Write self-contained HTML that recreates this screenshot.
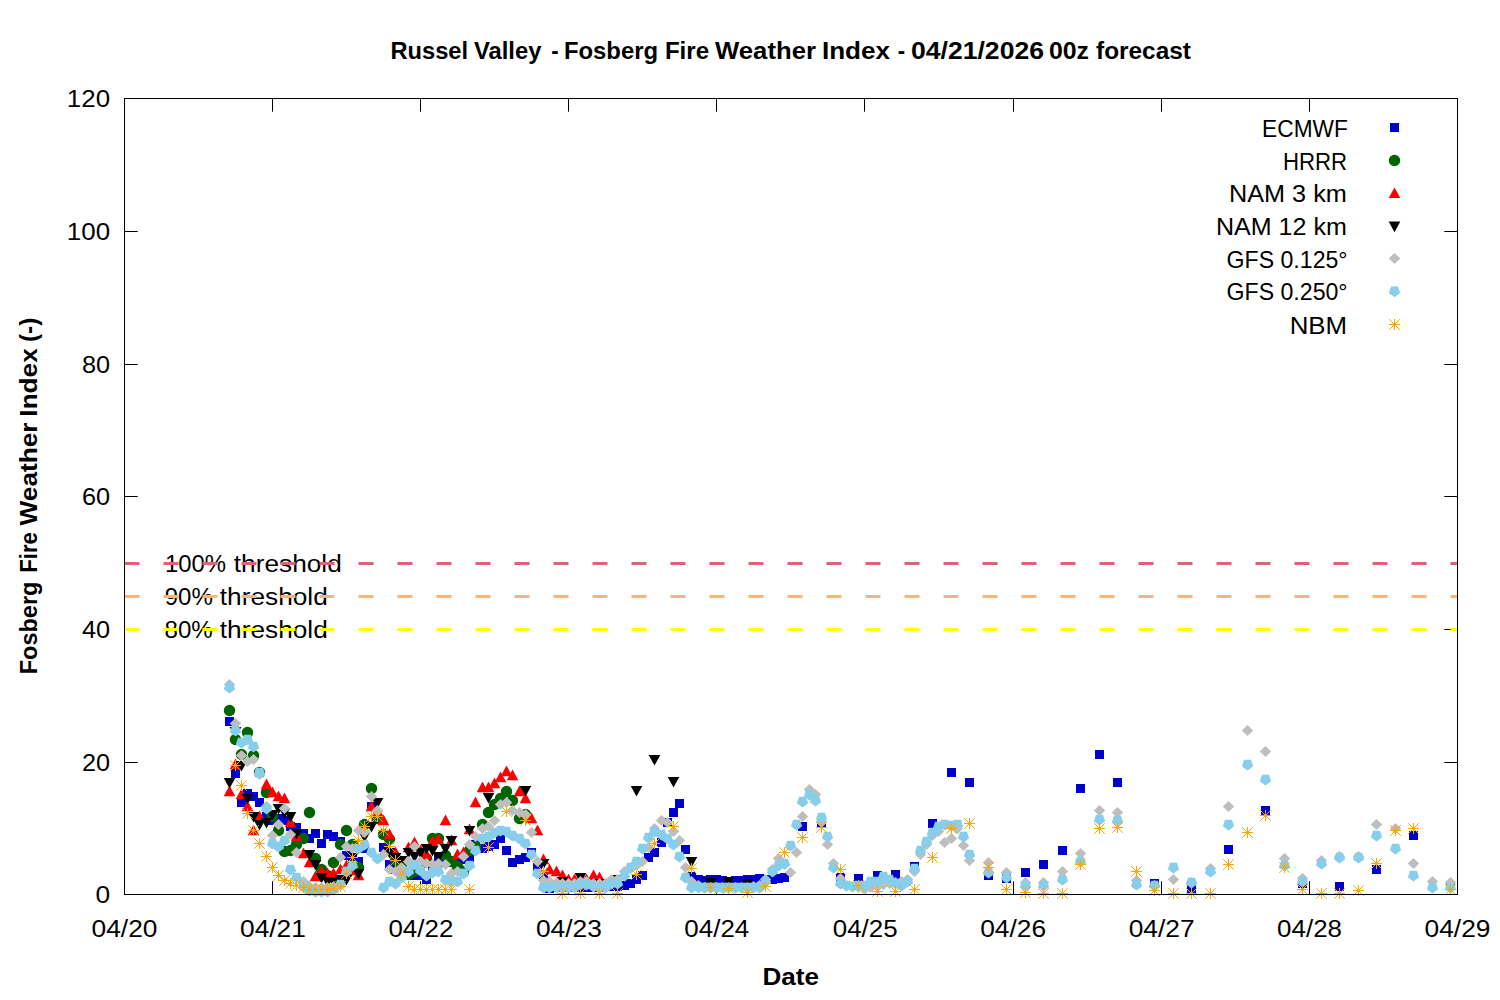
<!DOCTYPE html>
<html><head><meta charset="utf-8"><title>Russel Valley - Fosberg Fire Weather Index</title>
<style>html,body{margin:0;padding:0;background:#fff;}svg{display:block;font-family:"Liberation Sans",sans-serif;}</style></head>
<body>
<svg width="1500" height="1000" viewBox="0 0 1500 1000">
<rect width="1500" height="1000" fill="#fff"/>
<g stroke="#000" stroke-width="1" fill="none">
<path d="M272.5 894.5v-13.2 M272.5 98.5v13.2"/>
<path d="M420.5 894.5v-13.2 M420.5 98.5v13.2"/>
<path d="M568.5 894.5v-13.2 M568.5 98.5v13.2"/>
<path d="M716.5 894.5v-13.2 M716.5 98.5v13.2"/>
<path d="M864.5 894.5v-13.2 M864.5 98.5v13.2"/>
<path d="M1013.5 894.5v-13.2 M1013.5 98.5v13.2"/>
<path d="M1161.5 894.5v-13.2 M1161.5 98.5v13.2"/>
<path d="M1309.5 894.5v-13.2 M1309.5 98.5v13.2"/>
<path d="M124.5 762.5h13.2 M1457.5 762.5h-13.2"/>
<path d="M124.5 629.5h13.2 M1457.5 629.5h-13.2"/>
<path d="M124.5 496.5h13.2 M1457.5 496.5h-13.2"/>
<path d="M124.5 364.5h13.2 M1457.5 364.5h-13.2"/>
<path d="M124.5 231.5h13.2 M1457.5 231.5h-13.2"/>
</g>
<g fill="#000">
<text id="th100_0" x="164.89" y="571.5" font-size="24.8" textLength="61.16" lengthAdjust="spacingAndGlyphs">100%</text>
<text id="th100_1" x="233.79" y="571.5" font-size="24.8" textLength="108.04" lengthAdjust="spacingAndGlyphs">threshold</text>
<text id="th90_0" x="164.73" y="604.6" font-size="24.8" textLength="48.12" lengthAdjust="spacingAndGlyphs">90%</text>
<text id="th90_1" x="219.79" y="604.6" font-size="24.8" textLength="108.04" lengthAdjust="spacingAndGlyphs">threshold</text>
<text id="th80_0" x="164.53" y="637.8" font-size="24.8" textLength="48.3" lengthAdjust="spacingAndGlyphs">80%</text>
<text id="th80_1" x="219.79" y="637.8" font-size="24.8" textLength="108.04" lengthAdjust="spacingAndGlyphs">threshold</text>
</g>
<line x1="124.5" y1="563.5" x2="1457.5" y2="563.5" stroke="#DC6478" stroke-width="3" stroke-dasharray="15 24"/>
<line x1="124.5" y1="596.5" x2="1457.5" y2="596.5" stroke="#FAB478" stroke-width="3" stroke-dasharray="15 24"/>
<line x1="124.5" y1="629.5" x2="1457.5" y2="629.5" stroke="#FFFF00" stroke-width="3" stroke-dasharray="15 24"/>
<g fill="#000">
<text id="title_0" x="390.51" y="58.8" font-size="24.8" font-weight="bold" textLength="77.56" lengthAdjust="spacingAndGlyphs">Russel</text>
<text id="title_1" x="474" y="58.8" font-size="24.8" font-weight="bold" textLength="67.41" lengthAdjust="spacingAndGlyphs">Valley</text>
<text id="title_2" x="551.21" y="58.8" font-size="24.8" font-weight="bold" textLength="7.41" lengthAdjust="spacingAndGlyphs">-</text>
<text id="title_3" x="563.93" y="58.8" font-size="24.8" font-weight="bold" textLength="94.1" lengthAdjust="spacingAndGlyphs">Fosberg</text>
<text id="title_4" x="664.9" y="58.8" font-size="24.8" font-weight="bold" textLength="44.18" lengthAdjust="spacingAndGlyphs">Fire</text>
<text id="title_5" x="715" y="58.8" font-size="24.8" font-weight="bold" textLength="101" lengthAdjust="spacingAndGlyphs">Weather</text>
<text id="title_6" x="821.94" y="58.8" font-size="24.8" font-weight="bold" textLength="68.06" lengthAdjust="spacingAndGlyphs">Index</text>
<text id="title_7" x="897.8" y="58.8" font-size="24.8" font-weight="bold" textLength="7.41" lengthAdjust="spacingAndGlyphs">-</text>
<text id="title_8" x="910.98" y="58.8" font-size="24.8" font-weight="bold" textLength="133.03" lengthAdjust="spacingAndGlyphs">04/21/2026</text>
<text id="title_9" x="1048.94" y="58.8" font-size="24.8" font-weight="bold" textLength="40.11" lengthAdjust="spacingAndGlyphs">00z</text>
<text id="title_10" x="1096" y="58.8" font-size="24.8" font-weight="bold" textLength="95" lengthAdjust="spacingAndGlyphs">forecast</text>
<text id="xlab" x="762.51" y="985.3" font-size="24.8" font-weight="bold" textLength="56.54" lengthAdjust="spacingAndGlyphs">Date</text>
<text id="ylab_0" x="0" y="0" transform="translate(36.7,674.24) rotate(-90)" font-size="24.8" font-weight="bold" textLength="92.61" lengthAdjust="spacingAndGlyphs">Fosberg</text>
<text id="ylab_1" x="0" y="0" transform="translate(36.7,572.84) rotate(-90)" font-size="24.8" font-weight="bold" textLength="40.75" lengthAdjust="spacingAndGlyphs">Fire</text>
<text id="ylab_2" x="0" y="0" transform="translate(36.7,525.4) rotate(-90)" font-size="24.8" font-weight="bold" textLength="102.86" lengthAdjust="spacingAndGlyphs">Weather</text>
<text id="ylab_3" x="0" y="0" transform="translate(36.7,416.64) rotate(-90)" font-size="24.8" font-weight="bold" textLength="68.32" lengthAdjust="spacingAndGlyphs">Index</text>
<text id="ylab_4" x="0" y="0" transform="translate(36.7,342.09) rotate(-90)" font-size="24.8" font-weight="bold" textLength="24.44" lengthAdjust="spacingAndGlyphs">(-)</text>
<text id="yt0" x="95.48" y="903.3" font-size="24.8" textLength="14.68" lengthAdjust="spacingAndGlyphs">0</text>
<text id="yt20" x="81.92" y="770.63" font-size="24.8" textLength="28.17" lengthAdjust="spacingAndGlyphs">20</text>
<text id="yt40" x="81.92" y="637.97" font-size="24.8" textLength="28.17" lengthAdjust="spacingAndGlyphs">40</text>
<text id="yt60" x="81.92" y="505.3" font-size="24.8" textLength="28.17" lengthAdjust="spacingAndGlyphs">60</text>
<text id="yt80" x="81.92" y="372.63" font-size="24.8" textLength="28.17" lengthAdjust="spacingAndGlyphs">80</text>
<text id="yt100" x="66.84" y="239.97" font-size="24.8" textLength="43.24" lengthAdjust="spacingAndGlyphs">100</text>
<text id="yt120" x="66.84" y="107.3" font-size="24.8" textLength="43.24" lengthAdjust="spacingAndGlyphs">120</text>
<text id="xt0" x="91.56" y="936.6" font-size="24.8" textLength="65.9" lengthAdjust="spacingAndGlyphs">04/20</text>
<text id="xt1" x="240.01" y="936.6" font-size="24.8" textLength="65.9" lengthAdjust="spacingAndGlyphs">04/21</text>
<text id="xt2" x="388.46" y="936.6" font-size="24.8" textLength="64.87" lengthAdjust="spacingAndGlyphs">04/22</text>
<text id="xt3" x="535.9" y="936.6" font-size="24.8" textLength="65.9" lengthAdjust="spacingAndGlyphs">04/23</text>
<text id="xt4" x="684.36" y="936.6" font-size="24.8" textLength="64.85" lengthAdjust="spacingAndGlyphs">04/24</text>
<text id="xt5" x="832.79" y="936.6" font-size="24.8" textLength="64.85" lengthAdjust="spacingAndGlyphs">04/25</text>
<text id="xt6" x="980.22" y="936.6" font-size="24.8" textLength="65.87" lengthAdjust="spacingAndGlyphs">04/26</text>
<text id="xt7" x="1128.66" y="936.6" font-size="24.8" textLength="65.91" lengthAdjust="spacingAndGlyphs">04/27</text>
<text id="xt8" x="1277.11" y="936.6" font-size="24.8" textLength="64.87" lengthAdjust="spacingAndGlyphs">04/28</text>
<text id="xt9" x="1424.56" y="936.6" font-size="24.8" textLength="65.9" lengthAdjust="spacingAndGlyphs">04/29</text>
<text id="leg0" x="1262.12" y="136.5" font-size="24.8" textLength="85.71" lengthAdjust="spacingAndGlyphs">ECMWF</text>
<text id="leg1" x="1282.9" y="169.5" font-size="24.8" textLength="64.16" lengthAdjust="spacingAndGlyphs">HRRR</text>
<text id="leg2" x="1228.96" y="202.3" font-size="24.8" textLength="117.91" lengthAdjust="spacingAndGlyphs">NAM 3 km</text>
<text id="leg3" x="1215.94" y="235.2" font-size="24.8" textLength="130.89" lengthAdjust="spacingAndGlyphs">NAM 12 km</text>
<text id="leg4" x="1226.56" y="267.5" font-size="24.8" textLength="121.05" lengthAdjust="spacingAndGlyphs">GFS 0.125°</text>
<text id="leg5" x="1226.56" y="300.3" font-size="24.8" textLength="121.05" lengthAdjust="spacingAndGlyphs">GFS 0.250°</text>
<text id="leg6" x="1289.65" y="333.5" font-size="24.8" textLength="57.47" lengthAdjust="spacingAndGlyphs">NBM</text>
</g>
<g fill="#0000CD">
<rect x="1390" y="123" width="9" height="9"/>
<rect x="225" y="717" width="9" height="9"/>
<rect x="231" y="769" width="9" height="9"/>
<rect x="237" y="798" width="9" height="9"/>
<rect x="243" y="789" width="9" height="9"/>
<rect x="249" y="792" width="9" height="9"/>
<rect x="255" y="798" width="9" height="9"/>
<rect x="262" y="812" width="9" height="9"/>
<rect x="268" y="816" width="9" height="9"/>
<rect x="274" y="814" width="9" height="9"/>
<rect x="280" y="816" width="9" height="9"/>
<rect x="286" y="822" width="9" height="9"/>
<rect x="292" y="823" width="9" height="9"/>
<rect x="299" y="829" width="9" height="9"/>
<rect x="305" y="834" width="9" height="9"/>
<rect x="311" y="829" width="9" height="9"/>
<rect x="317" y="839" width="9" height="9"/>
<rect x="323" y="830" width="9" height="9"/>
<rect x="329" y="832" width="9" height="9"/>
<rect x="336" y="837" width="9" height="9"/>
<rect x="342" y="851" width="9" height="9"/>
<rect x="348" y="854" width="9" height="9"/>
<rect x="354" y="857" width="9" height="9"/>
<rect x="360" y="844" width="9" height="9"/>
<rect x="367" y="802" width="9" height="9"/>
<rect x="373" y="814" width="9" height="9"/>
<rect x="379" y="843" width="9" height="9"/>
<rect x="385" y="860" width="9" height="9"/>
<rect x="391" y="865" width="9" height="9"/>
<rect x="397" y="869" width="9" height="9"/>
<rect x="404" y="871" width="9" height="9"/>
<rect x="410" y="871" width="9" height="9"/>
<rect x="416" y="871" width="9" height="9"/>
<rect x="422" y="875" width="9" height="9"/>
<rect x="428" y="863" width="9" height="9"/>
<rect x="434" y="855" width="9" height="9"/>
<rect x="441" y="858" width="9" height="9"/>
<rect x="447" y="857" width="9" height="9"/>
<rect x="453" y="857" width="9" height="9"/>
<rect x="459" y="855" width="9" height="9"/>
<rect x="465" y="853" width="9" height="9"/>
<rect x="471" y="840" width="9" height="9"/>
<rect x="478" y="844" width="9" height="9"/>
<rect x="484" y="842" width="9" height="9"/>
<rect x="490" y="840" width="9" height="9"/>
<rect x="496" y="834" width="9" height="9"/>
<rect x="502" y="846" width="9" height="9"/>
<rect x="508" y="858" width="9" height="9"/>
<rect x="515" y="855" width="9" height="9"/>
<rect x="521" y="853" width="9" height="9"/>
<rect x="527" y="848" width="9" height="9"/>
<rect x="533" y="862" width="9" height="9"/>
<rect x="539" y="871" width="9" height="9"/>
<rect x="545" y="884" width="9" height="9"/>
<rect x="552" y="883" width="9" height="9"/>
<rect x="558" y="883" width="9" height="9"/>
<rect x="564" y="883" width="9" height="9"/>
<rect x="570" y="883" width="9" height="9"/>
<rect x="576" y="883" width="9" height="9"/>
<rect x="582" y="883" width="9" height="9"/>
<rect x="589" y="883" width="9" height="9"/>
<rect x="595" y="883" width="9" height="9"/>
<rect x="601" y="882" width="9" height="9"/>
<rect x="607" y="882" width="9" height="9"/>
<rect x="613" y="882" width="9" height="9"/>
<rect x="620" y="881" width="9" height="9"/>
<rect x="626" y="879" width="9" height="9"/>
<rect x="632" y="875" width="9" height="9"/>
<rect x="638" y="871" width="9" height="9"/>
<rect x="644" y="853" width="9" height="9"/>
<rect x="650" y="848" width="9" height="9"/>
<rect x="657" y="838" width="9" height="9"/>
<rect x="663" y="818" width="9" height="9"/>
<rect x="669" y="808" width="9" height="9"/>
<rect x="675" y="799" width="9" height="9"/>
<rect x="681" y="845" width="9" height="9"/>
<rect x="687" y="872" width="9" height="9"/>
<rect x="694" y="875" width="9" height="9"/>
<rect x="700" y="876" width="9" height="9"/>
<rect x="706" y="875" width="9" height="9"/>
<rect x="712" y="875" width="9" height="9"/>
<rect x="718" y="876" width="9" height="9"/>
<rect x="724" y="877" width="9" height="9"/>
<rect x="731" y="876" width="9" height="9"/>
<rect x="737" y="876" width="9" height="9"/>
<rect x="743" y="875" width="9" height="9"/>
<rect x="749" y="875" width="9" height="9"/>
<rect x="755" y="874" width="9" height="9"/>
<rect x="761" y="875" width="9" height="9"/>
<rect x="768" y="875" width="9" height="9"/>
<rect x="774" y="874" width="9" height="9"/>
<rect x="780" y="873" width="9" height="9"/>
<rect x="798" y="822" width="9" height="9"/>
<rect x="817" y="819" width="9" height="9"/>
<rect x="836" y="873" width="9" height="9"/>
<rect x="854" y="874" width="9" height="9"/>
<rect x="873" y="871" width="9" height="9"/>
<rect x="891" y="870" width="9" height="9"/>
<rect x="910" y="862" width="9" height="9"/>
<rect x="928" y="819" width="9" height="9"/>
<rect x="947" y="768" width="9" height="9"/>
<rect x="965" y="778" width="9" height="9"/>
<rect x="984" y="871" width="9" height="9"/>
<rect x="1002" y="874" width="9" height="9"/>
<rect x="1021" y="868" width="9" height="9"/>
<rect x="1039" y="860" width="9" height="9"/>
<rect x="1058" y="846" width="9" height="9"/>
<rect x="1076" y="784" width="9" height="9"/>
<rect x="1095" y="750" width="9" height="9"/>
<rect x="1113" y="778" width="9" height="9"/>
<rect x="1150" y="879" width="9" height="9"/>
<rect x="1187" y="884" width="9" height="9"/>
<rect x="1224" y="845" width="9" height="9"/>
<rect x="1261" y="806" width="9" height="9"/>
<rect x="1298" y="879" width="9" height="9"/>
<rect x="1335" y="882" width="9" height="9"/>
<rect x="1372" y="865" width="9" height="9"/>
<rect x="1409" y="831" width="9" height="9"/>
<rect x="1446" y="881" width="9" height="9"/>
</g>
<g fill="#006400">
<circle cx="1394.5" cy="160.5" r="5.7"/>
<circle cx="229.5" cy="710.5" r="5.7"/>
<circle cx="235.5" cy="739.5" r="5.7"/>
<circle cx="241.5" cy="754.5" r="5.7"/>
<circle cx="247.5" cy="732.5" r="5.7"/>
<circle cx="253.5" cy="755.5" r="5.7"/>
<circle cx="259.5" cy="772.5" r="5.7"/>
<circle cx="266.5" cy="792.5" r="5.7"/>
<circle cx="272.5" cy="816.5" r="5.7"/>
<circle cx="278.5" cy="830.5" r="5.7"/>
<circle cx="284.5" cy="851.5" r="5.7"/>
<circle cx="290.5" cy="850.5" r="5.7"/>
<circle cx="296.5" cy="844.5" r="5.7"/>
<circle cx="303.5" cy="838.5" r="5.7"/>
<circle cx="309.5" cy="812.5" r="5.7"/>
<circle cx="315.5" cy="858.5" r="5.7"/>
<circle cx="321.5" cy="869.5" r="5.7"/>
<circle cx="327.5" cy="875.5" r="5.7"/>
<circle cx="333.5" cy="862.5" r="5.7"/>
<circle cx="340.5" cy="844.5" r="5.7"/>
<circle cx="346.5" cy="830.5" r="5.7"/>
<circle cx="352.5" cy="844.5" r="5.7"/>
<circle cx="358.5" cy="867.5" r="5.7"/>
<circle cx="364.5" cy="824.5" r="5.7"/>
<circle cx="371.5" cy="788.5" r="5.7"/>
<circle cx="377.5" cy="818.5" r="5.7"/>
<circle cx="383.5" cy="834.5" r="5.7"/>
<circle cx="389.5" cy="839.5" r="5.7"/>
<circle cx="395.5" cy="860.5" r="5.7"/>
<circle cx="401.5" cy="867.5" r="5.7"/>
<circle cx="408.5" cy="874.5" r="5.7"/>
<circle cx="414.5" cy="871.5" r="5.7"/>
<circle cx="420.5" cy="864.5" r="5.7"/>
<circle cx="426.5" cy="858.5" r="5.7"/>
<circle cx="432.5" cy="838.5" r="5.7"/>
<circle cx="438.5" cy="838.5" r="5.7"/>
<circle cx="445.5" cy="855.5" r="5.7"/>
<circle cx="451.5" cy="861.5" r="5.7"/>
<circle cx="457.5" cy="866.5" r="5.7"/>
<circle cx="463.5" cy="871.5" r="5.7"/>
<circle cx="469.5" cy="850.5" r="5.7"/>
<circle cx="475.5" cy="846.5" r="5.7"/>
<circle cx="482.5" cy="824.5" r="5.7"/>
<circle cx="488.5" cy="812.5" r="5.7"/>
<circle cx="494.5" cy="804.5" r="5.7"/>
<circle cx="500.5" cy="798.5" r="5.7"/>
<circle cx="506.5" cy="791.5" r="5.7"/>
<circle cx="512.5" cy="800.5" r="5.7"/>
<circle cx="519.5" cy="818.5" r="5.7"/>
<circle cx="525.5" cy="814.5" r="5.7"/>
</g>
<g fill="#FF0000">
<path d="M1388.7 198L1400.3 198L1394.5 187.4Z"/>
<path d="M223.7 796.2L235.3 796.2L229.5 785.6Z"/>
<path d="M229.7 769.2L241.3 769.2L235.5 758.6Z"/>
<path d="M235.7 799.2L247.3 799.2L241.5 788.6Z"/>
<path d="M241.7 811.2L253.3 811.2L247.5 800.6Z"/>
<path d="M247.7 835.2L259.3 835.2L253.5 824.6Z"/>
<path d="M253.7 821.2L265.3 821.2L259.5 810.6Z"/>
<path d="M260.7 789.2L272.3 789.2L266.5 778.6Z"/>
<path d="M266.7 797.2L278.3 797.2L272.5 786.6Z"/>
<path d="M272.7 801.2L284.3 801.2L278.5 790.6Z"/>
<path d="M278.7 803.2L290.3 803.2L284.5 792.6Z"/>
<path d="M284.7 827.2L296.3 827.2L290.5 816.6Z"/>
<path d="M290.7 841.2L302.3 841.2L296.5 830.6Z"/>
<path d="M297.7 858.2L309.3 858.2L303.5 847.6Z"/>
<path d="M303.7 867.2L315.3 867.2L309.5 856.6Z"/>
<path d="M309.7 881.2L321.3 881.2L315.5 870.6Z"/>
<path d="M315.7 876.2L327.3 876.2L321.5 865.6Z"/>
<path d="M321.7 878.2L333.3 878.2L327.5 867.6Z"/>
<path d="M327.7 878.2L339.3 878.2L333.5 867.6Z"/>
<path d="M334.7 874.2L346.3 874.2L340.5 863.6Z"/>
<path d="M340.7 870.2L352.3 870.2L346.5 859.6Z"/>
<path d="M346.7 875.2L358.3 875.2L352.5 864.6Z"/>
<path d="M352.7 880.2L364.3 880.2L358.5 869.6Z"/>
<path d="M365.7 811.2L377.3 811.2L371.5 800.6Z"/>
<path d="M371.7 816.2L383.3 816.2L377.5 805.6Z"/>
<path d="M377.7 825.2L389.3 825.2L383.5 814.6Z"/>
<path d="M383.7 839.2L395.3 839.2L389.5 828.6Z"/>
<path d="M389.7 857.2L401.3 857.2L395.5 846.6Z"/>
<path d="M402.7 852.2L414.3 852.2L408.5 841.6Z"/>
<path d="M408.7 847.2L420.3 847.2L414.5 836.6Z"/>
<path d="M414.7 855.2L426.3 855.2L420.5 844.6Z"/>
<path d="M420.7 859.2L432.3 859.2L426.5 848.6Z"/>
<path d="M426.7 846.2L438.3 846.2L432.5 835.6Z"/>
<path d="M432.7 844.2L444.3 844.2L438.5 833.6Z"/>
<path d="M439.7 825.2L451.3 825.2L445.5 814.6Z"/>
<path d="M445.7 845.2L457.3 845.2L451.5 834.6Z"/>
<path d="M451.7 859.2L463.3 859.2L457.5 848.6Z"/>
<path d="M457.7 857.2L469.3 857.2L463.5 846.6Z"/>
<path d="M463.7 834.2L475.3 834.2L469.5 823.6Z"/>
<path d="M469.7 807.2L481.3 807.2L475.5 796.6Z"/>
<path d="M476.7 792.2L488.3 792.2L482.5 781.6Z"/>
<path d="M482.7 792.2L494.3 792.2L488.5 781.6Z"/>
<path d="M488.7 788.2L500.3 788.2L494.5 777.6Z"/>
<path d="M494.7 782.2L506.3 782.2L500.5 771.6Z"/>
<path d="M500.7 776.2L512.3 776.2L506.5 765.6Z"/>
<path d="M506.7 780.2L518.3 780.2L512.5 769.6Z"/>
<path d="M513.7 796.2L525.3 796.2L519.5 785.6Z"/>
<path d="M519.7 803.2L531.3 803.2L525.5 792.6Z"/>
<path d="M525.7 823.2L537.3 823.2L531.5 812.6Z"/>
<path d="M531.7 835.2L543.3 835.2L537.5 824.6Z"/>
<path d="M537.7 864.2L549.3 864.2L543.5 853.6Z"/>
<path d="M543.7 874.2L555.3 874.2L549.5 863.6Z"/>
<path d="M550.7 876.2L562.3 876.2L556.5 865.6Z"/>
<path d="M556.7 880.2L568.3 880.2L562.5 869.6Z"/>
<path d="M562.7 884.2L574.3 884.2L568.5 873.6Z"/>
<path d="M568.7 884.2L580.3 884.2L574.5 873.6Z"/>
<path d="M574.7 884.2L586.3 884.2L580.5 873.6Z"/>
<path d="M580.7 884.2L592.3 884.2L586.5 873.6Z"/>
<path d="M587.7 880.2L599.3 880.2L593.5 869.6Z"/>
<path d="M593.7 882.2L605.3 882.2L599.5 871.6Z"/>
</g>
<g fill="#000000">
<path d="M1388.7 221.6L1400.3 221.6L1394.5 232.3Z"/>
<path d="M223.7 777.9L235.3 777.9L229.5 788.6Z"/>
<path d="M229.7 726.9L241.3 726.9L235.5 737.6Z"/>
<path d="M235.7 760.9L247.3 760.9L241.5 771.6Z"/>
<path d="M241.7 793.9L253.3 793.9L247.5 804.6Z"/>
<path d="M247.7 811.9L259.3 811.9L253.5 822.6Z"/>
<path d="M253.7 819.9L265.3 819.9L259.5 830.6Z"/>
<path d="M260.7 817.9L272.3 817.9L266.5 828.6Z"/>
<path d="M266.7 809.9L278.3 809.9L272.5 820.6Z"/>
<path d="M272.7 803.9L284.3 803.9L278.5 814.6Z"/>
<path d="M278.7 807.9L290.3 807.9L284.5 818.6Z"/>
<path d="M284.7 811.9L296.3 811.9L290.5 822.6Z"/>
<path d="M290.7 828.9L302.3 828.9L296.5 839.6Z"/>
<path d="M303.7 849.9L315.3 849.9L309.5 860.6Z"/>
<path d="M309.7 859.9L321.3 859.9L315.5 870.6Z"/>
<path d="M315.7 872.9L327.3 872.9L321.5 883.6Z"/>
<path d="M321.7 876.9L333.3 876.9L327.5 887.6Z"/>
<path d="M327.7 876.9L339.3 876.9L333.5 887.6Z"/>
<path d="M334.7 874.9L346.3 874.9L340.5 885.6Z"/>
<path d="M340.7 874.9L352.3 874.9L346.5 885.6Z"/>
<path d="M346.7 852.9L358.3 852.9L352.5 863.6Z"/>
<path d="M352.7 868.9L364.3 868.9L358.5 879.6Z"/>
<path d="M358.7 831.9L370.3 831.9L364.5 842.6Z"/>
<path d="M365.7 821.9L377.3 821.9L371.5 832.6Z"/>
<path d="M371.7 797.9L383.3 797.9L377.5 808.6Z"/>
<path d="M383.7 847.9L395.3 847.9L389.5 858.6Z"/>
<path d="M389.7 852.9L401.3 852.9L395.5 863.6Z"/>
<path d="M395.7 855.9L407.3 855.9L401.5 866.6Z"/>
<path d="M402.7 847.9L414.3 847.9L408.5 858.6Z"/>
<path d="M408.7 851.9L420.3 851.9L414.5 862.6Z"/>
<path d="M414.7 847.9L426.3 847.9L420.5 858.6Z"/>
<path d="M420.7 843.9L432.3 843.9L426.5 854.6Z"/>
<path d="M426.7 845.9L438.3 845.9L432.5 856.6Z"/>
<path d="M432.7 851.9L444.3 851.9L438.5 862.6Z"/>
<path d="M439.7 843.9L451.3 843.9L445.5 854.6Z"/>
<path d="M445.7 835.9L457.3 835.9L451.5 846.6Z"/>
<path d="M463.7 825.9L475.3 825.9L469.5 836.6Z"/>
<path d="M482.7 792.9L494.3 792.9L488.5 803.6Z"/>
<path d="M519.7 785.9L531.3 785.9L525.5 796.6Z"/>
<path d="M537.7 858.9L549.3 858.9L543.5 869.6Z"/>
<path d="M556.7 876.9L568.3 876.9L562.5 887.6Z"/>
<path d="M574.7 872.9L586.3 872.9L580.5 883.6Z"/>
<path d="M593.7 878.9L605.3 878.9L599.5 889.6Z"/>
<path d="M611.7 874.9L623.3 874.9L617.5 885.6Z"/>
<path d="M630.7 785.9L642.3 785.9L636.5 796.6Z"/>
<path d="M648.7 754.9L660.3 754.9L654.5 765.6Z"/>
<path d="M667.7 776.9L679.3 776.9L673.5 787.6Z"/>
<path d="M685.7 856.9L697.3 856.9L691.5 867.6Z"/>
<path d="M704.7 877.9L716.3 877.9L710.5 888.6Z"/>
<path d="M722.7 876.9L734.3 876.9L728.5 887.6Z"/>
<path d="M741.7 878.9L753.3 878.9L747.5 889.6Z"/>
</g>
<g fill="#BEBEBE">
<path d="M1388.8 258.5L1394.5 252.9L1400.2 258.5L1394.5 264.1Z"/>
<path d="M223.8 684.5L229.5 678.9L235.2 684.5L229.5 690.1Z"/>
<path d="M229.8 723.5L235.5 717.9L241.2 723.5L235.5 729.1Z"/>
<path d="M235.8 755.5L241.5 749.9L247.2 755.5L241.5 761.1Z"/>
<path d="M241.8 761.5L247.5 755.9L253.2 761.5L247.5 767.1Z"/>
<path d="M247.8 759.5L253.5 753.9L259.2 759.5L253.5 765.1Z"/>
<path d="M253.8 774.5L259.5 768.9L265.2 774.5L259.5 780.1Z"/>
<path d="M260.8 806.5L266.5 800.9L272.2 806.5L266.5 812.1Z"/>
<path d="M266.8 835.5L272.5 829.9L278.2 835.5L272.5 841.1Z"/>
<path d="M272.8 824.5L278.5 818.9L284.2 824.5L278.5 830.1Z"/>
<path d="M278.8 808.5L284.5 802.9L290.2 808.5L284.5 814.1Z"/>
<path d="M284.8 834.5L290.5 828.9L296.2 834.5L290.5 840.1Z"/>
<path d="M290.8 852.5L296.5 846.9L302.2 852.5L296.5 858.1Z"/>
<path d="M297.8 881.5L303.5 875.9L309.2 881.5L303.5 887.1Z"/>
<path d="M303.8 886.5L309.5 880.9L315.2 886.5L309.5 892.1Z"/>
<path d="M309.8 887.5L315.5 881.9L321.2 887.5L315.5 893.1Z"/>
<path d="M315.8 887.5L321.5 881.9L327.2 887.5L321.5 893.1Z"/>
<path d="M321.8 887.5L327.5 881.9L333.2 887.5L327.5 893.1Z"/>
<path d="M327.8 886.5L333.5 880.9L339.2 886.5L333.5 892.1Z"/>
<path d="M334.8 857.5L340.5 851.9L346.2 857.5L340.5 863.1Z"/>
<path d="M340.8 846.5L346.5 840.9L352.2 846.5L346.5 852.1Z"/>
<path d="M346.8 848.5L352.5 842.9L358.2 848.5L352.5 854.1Z"/>
<path d="M352.8 830.5L358.5 824.9L364.2 830.5L358.5 836.1Z"/>
<path d="M358.8 832.5L364.5 826.9L370.2 832.5L364.5 838.1Z"/>
<path d="M365.8 796.5L371.5 790.9L377.2 796.5L371.5 802.1Z"/>
<path d="M371.8 810.5L377.5 804.9L383.2 810.5L377.5 816.1Z"/>
<path d="M377.8 854.5L383.5 848.9L389.2 854.5L383.5 860.1Z"/>
<path d="M383.8 869.5L389.5 863.9L395.2 869.5L389.5 875.1Z"/>
<path d="M389.8 871.5L395.5 865.9L401.2 871.5L395.5 877.1Z"/>
<path d="M395.8 867.5L401.5 861.9L407.2 867.5L401.5 873.1Z"/>
<path d="M402.8 861.5L408.5 855.9L414.2 861.5L408.5 867.1Z"/>
<path d="M408.8 846.5L414.5 840.9L420.2 846.5L414.5 852.1Z"/>
<path d="M414.8 861.5L420.5 855.9L426.2 861.5L420.5 867.1Z"/>
<path d="M420.8 863.5L426.5 857.9L432.2 863.5L426.5 869.1Z"/>
<path d="M426.8 864.5L432.5 858.9L438.2 864.5L432.5 870.1Z"/>
<path d="M432.8 863.5L438.5 857.9L444.2 863.5L438.5 869.1Z"/>
<path d="M439.8 864.5L445.5 858.9L451.2 864.5L445.5 870.1Z"/>
<path d="M445.8 873.5L451.5 867.9L457.2 873.5L451.5 879.1Z"/>
<path d="M451.8 871.5L457.5 865.9L463.2 871.5L457.5 877.1Z"/>
<path d="M457.8 856.5L463.5 850.9L469.2 856.5L463.5 862.1Z"/>
<path d="M463.8 844.5L469.5 838.9L475.2 844.5L469.5 850.1Z"/>
<path d="M469.8 836.5L475.5 830.9L481.2 836.5L475.5 842.1Z"/>
<path d="M476.8 828.5L482.5 822.9L488.2 828.5L482.5 834.1Z"/>
<path d="M482.8 826.5L488.5 820.9L494.2 826.5L488.5 832.1Z"/>
<path d="M488.8 820.5L494.5 814.9L500.2 820.5L494.5 826.1Z"/>
<path d="M494.8 804.5L500.5 798.9L506.2 804.5L500.5 810.1Z"/>
<path d="M500.8 802.5L506.5 796.9L512.2 802.5L506.5 808.1Z"/>
<path d="M506.8 810.5L512.5 804.9L518.2 810.5L512.5 816.1Z"/>
<path d="M513.8 812.5L519.5 806.9L525.2 812.5L519.5 818.1Z"/>
<path d="M519.8 814.5L525.5 808.9L531.2 814.5L525.5 820.1Z"/>
<path d="M525.8 832.5L531.5 826.9L537.2 832.5L531.5 838.1Z"/>
<path d="M531.8 861.5L537.5 855.9L543.2 861.5L537.5 867.1Z"/>
<path d="M537.8 880.5L543.5 874.9L549.2 880.5L543.5 886.1Z"/>
<path d="M543.8 881.5L549.5 875.9L555.2 881.5L549.5 887.1Z"/>
<path d="M550.8 882.5L556.5 876.9L562.2 882.5L556.5 888.1Z"/>
<path d="M556.8 883.5L562.5 877.9L568.2 883.5L562.5 889.1Z"/>
<path d="M562.8 883.5L568.5 877.9L574.2 883.5L568.5 889.1Z"/>
<path d="M568.8 883.5L574.5 877.9L580.2 883.5L574.5 889.1Z"/>
<path d="M574.8 881.5L580.5 875.9L586.2 881.5L580.5 887.1Z"/>
<path d="M580.8 881.5L586.5 875.9L592.2 881.5L586.5 887.1Z"/>
<path d="M587.8 883.5L593.5 877.9L599.2 883.5L593.5 889.1Z"/>
<path d="M593.8 883.5L599.5 877.9L605.2 883.5L599.5 889.1Z"/>
<path d="M599.8 883.5L605.5 877.9L611.2 883.5L605.5 889.1Z"/>
<path d="M605.8 879.5L611.5 873.9L617.2 879.5L611.5 885.1Z"/>
<path d="M611.8 879.5L617.5 873.9L623.2 879.5L617.5 885.1Z"/>
<path d="M618.8 871.5L624.5 865.9L630.2 871.5L624.5 877.1Z"/>
<path d="M624.8 868.5L630.5 862.9L636.2 868.5L630.5 874.1Z"/>
<path d="M630.8 865.5L636.5 859.9L642.2 865.5L636.5 871.1Z"/>
<path d="M636.8 861.5L642.5 855.9L648.2 861.5L642.5 867.1Z"/>
<path d="M642.8 847.5L648.5 841.9L654.2 847.5L648.5 853.1Z"/>
<path d="M648.8 828.5L654.5 822.9L660.2 828.5L654.5 834.1Z"/>
<path d="M655.8 820.5L661.5 814.9L667.2 820.5L661.5 826.1Z"/>
<path d="M661.8 822.5L667.5 816.9L673.2 822.5L667.5 828.1Z"/>
<path d="M667.8 831.5L673.5 825.9L679.2 831.5L673.5 837.1Z"/>
<path d="M673.8 840.5L679.5 834.9L685.2 840.5L679.5 846.1Z"/>
<path d="M679.8 867.5L685.5 861.9L691.2 867.5L685.5 873.1Z"/>
<path d="M685.8 881.5L691.5 875.9L697.2 881.5L691.5 887.1Z"/>
<path d="M692.8 885.5L698.5 879.9L704.2 885.5L698.5 891.1Z"/>
<path d="M698.8 887.5L704.5 881.9L710.2 887.5L704.5 893.1Z"/>
<path d="M704.8 887.5L710.5 881.9L716.2 887.5L710.5 893.1Z"/>
<path d="M710.8 887.5L716.5 881.9L722.2 887.5L716.5 893.1Z"/>
<path d="M716.8 887.5L722.5 881.9L728.2 887.5L722.5 893.1Z"/>
<path d="M722.8 887.5L728.5 881.9L734.2 887.5L728.5 893.1Z"/>
<path d="M729.8 887.5L735.5 881.9L741.2 887.5L735.5 893.1Z"/>
<path d="M735.8 887.5L741.5 881.9L747.2 887.5L741.5 893.1Z"/>
<path d="M741.8 887.5L747.5 881.9L753.2 887.5L747.5 893.1Z"/>
<path d="M747.8 886.5L753.5 880.9L759.2 886.5L753.5 892.1Z"/>
<path d="M753.8 885.5L759.5 879.9L765.2 885.5L759.5 891.1Z"/>
<path d="M759.8 879.5L765.5 873.9L771.2 879.5L765.5 885.1Z"/>
<path d="M766.8 869.5L772.5 863.9L778.2 869.5L772.5 875.1Z"/>
<path d="M772.8 858.5L778.5 852.9L784.2 858.5L778.5 864.1Z"/>
<path d="M778.8 864.5L784.5 858.9L790.2 864.5L784.5 870.1Z"/>
<path d="M784.8 872.5L790.5 866.9L796.2 872.5L790.5 878.1Z"/>
<path d="M790.8 852.5L796.5 846.9L802.2 852.5L796.5 858.1Z"/>
<path d="M796.8 816.5L802.5 810.9L808.2 816.5L802.5 822.1Z"/>
<path d="M803.8 789.5L809.5 783.9L815.2 789.5L809.5 795.1Z"/>
<path d="M809.8 794.5L815.5 788.9L821.2 794.5L815.5 800.1Z"/>
<path d="M815.8 821.5L821.5 815.9L827.2 821.5L821.5 827.1Z"/>
<path d="M821.8 844.5L827.5 838.9L833.2 844.5L827.5 850.1Z"/>
<path d="M827.8 863.5L833.5 857.9L839.2 863.5L833.5 869.1Z"/>
<path d="M834.8 878.5L840.5 872.9L846.2 878.5L840.5 884.1Z"/>
<path d="M840.8 885.5L846.5 879.9L852.2 885.5L846.5 891.1Z"/>
<path d="M846.8 886.5L852.5 880.9L858.2 886.5L852.5 892.1Z"/>
<path d="M852.8 887.5L858.5 881.9L864.2 887.5L858.5 893.1Z"/>
<path d="M858.8 889.5L864.5 883.9L870.2 889.5L864.5 895.1Z"/>
<path d="M864.8 887.5L870.5 881.9L876.2 887.5L870.5 893.1Z"/>
<path d="M871.8 885.5L877.5 879.9L883.2 885.5L877.5 891.1Z"/>
<path d="M877.8 884.5L883.5 878.9L889.2 884.5L883.5 890.1Z"/>
<path d="M883.8 883.5L889.5 877.9L895.2 883.5L889.5 889.1Z"/>
<path d="M889.8 882.5L895.5 876.9L901.2 882.5L895.5 888.1Z"/>
<path d="M895.8 881.5L901.5 875.9L907.2 881.5L901.5 887.1Z"/>
<path d="M901.8 879.5L907.5 873.9L913.2 879.5L907.5 885.1Z"/>
<path d="M908.8 871.5L914.5 865.9L920.2 871.5L914.5 877.1Z"/>
<path d="M914.8 854.5L920.5 848.9L926.2 854.5L920.5 860.1Z"/>
<path d="M920.8 844.5L926.5 838.9L932.2 844.5L926.5 850.1Z"/>
<path d="M926.8 835.5L932.5 829.9L938.2 835.5L932.5 841.1Z"/>
<path d="M932.8 831.5L938.5 825.9L944.2 831.5L938.5 837.1Z"/>
<path d="M938.8 842.5L944.5 836.9L950.2 842.5L944.5 848.1Z"/>
<path d="M945.8 838.5L951.5 832.9L957.2 838.5L951.5 844.1Z"/>
<path d="M951.8 828.5L957.5 822.9L963.2 828.5L957.5 834.1Z"/>
<path d="M957.8 845.5L963.5 839.9L969.2 845.5L963.5 851.1Z"/>
<path d="M963.8 860.5L969.5 854.9L975.2 860.5L969.5 866.1Z"/>
<path d="M982.8 862.5L988.5 856.9L994.2 862.5L988.5 868.1Z"/>
<path d="M1000.8 872.5L1006.5 866.9L1012.2 872.5L1006.5 878.1Z"/>
<path d="M1019.8 882.5L1025.5 876.9L1031.2 882.5L1025.5 888.1Z"/>
<path d="M1037.8 882.5L1043.5 876.9L1049.2 882.5L1043.5 888.1Z"/>
<path d="M1056.8 871.5L1062.5 865.9L1068.2 871.5L1062.5 877.1Z"/>
<path d="M1074.8 853.5L1080.5 847.9L1086.2 853.5L1080.5 859.1Z"/>
<path d="M1093.8 810.5L1099.5 804.9L1105.2 810.5L1099.5 816.1Z"/>
<path d="M1111.8 812.5L1117.5 806.9L1123.2 812.5L1117.5 818.1Z"/>
<path d="M1130.8 880.5L1136.5 874.9L1142.2 880.5L1136.5 886.1Z"/>
<path d="M1148.8 885.5L1154.5 879.9L1160.2 885.5L1154.5 891.1Z"/>
<path d="M1167.8 879.5L1173.5 873.9L1179.2 879.5L1173.5 885.1Z"/>
<path d="M1185.8 882.5L1191.5 876.9L1197.2 882.5L1191.5 888.1Z"/>
<path d="M1204.8 868.5L1210.5 862.9L1216.2 868.5L1210.5 874.1Z"/>
<path d="M1222.8 806.5L1228.5 800.9L1234.2 806.5L1228.5 812.1Z"/>
<path d="M1241.8 730.5L1247.5 724.9L1253.2 730.5L1247.5 736.1Z"/>
<path d="M1259.8 751.5L1265.5 745.9L1271.2 751.5L1265.5 757.1Z"/>
<path d="M1278.8 858.5L1284.5 852.9L1290.2 858.5L1284.5 864.1Z"/>
<path d="M1296.8 878.5L1302.5 872.9L1308.2 878.5L1302.5 884.1Z"/>
<path d="M1315.8 860.5L1321.5 854.9L1327.2 860.5L1321.5 866.1Z"/>
<path d="M1333.8 856.5L1339.5 850.9L1345.2 856.5L1339.5 862.1Z"/>
<path d="M1352.8 856.5L1358.5 850.9L1364.2 856.5L1358.5 862.1Z"/>
<path d="M1370.8 824.5L1376.5 818.9L1382.2 824.5L1376.5 830.1Z"/>
<path d="M1389.8 828.5L1395.5 822.9L1401.2 828.5L1395.5 834.1Z"/>
<path d="M1407.8 863.5L1413.5 857.9L1419.2 863.5L1413.5 869.1Z"/>
<path d="M1426.8 881.5L1432.5 875.9L1438.2 881.5L1432.5 887.1Z"/>
<path d="M1444.8 882.5L1450.5 876.9L1456.2 882.5L1450.5 888.1Z"/>
</g>
<g fill="#87CEEB">
<path d="M1397.97 286.53L1391.03 286.53L1388.89 293.12L1394.5 297.2L1400.11 293.12Z"/>
<path d="M232.97 682.73L226.03 682.73L223.89 689.32L229.5 693.4L235.11 689.32Z"/>
<path d="M238.97 725.73L232.03 725.73L229.89 732.32L235.5 736.4L241.11 732.32Z"/>
<path d="M244.97 737.73L238.03 737.73L235.89 744.32L241.5 748.4L247.11 744.32Z"/>
<path d="M250.97 734.73L244.03 734.73L241.89 741.32L247.5 745.4L253.11 741.32Z"/>
<path d="M256.97 741.73L250.03 741.73L247.89 748.32L253.5 752.4L259.11 748.32Z"/>
<path d="M262.97 767.73L256.03 767.73L253.89 774.32L259.5 778.4L265.11 774.32Z"/>
<path d="M269.97 803.73L263.03 803.73L260.89 810.32L266.5 814.4L272.11 810.32Z"/>
<path d="M275.97 838.73L269.03 838.73L266.89 845.32L272.5 849.4L278.11 845.32Z"/>
<path d="M281.97 841.73L275.03 841.73L272.89 848.32L278.5 852.4L284.11 848.32Z"/>
<path d="M287.97 835.73L281.03 835.73L278.89 842.32L284.5 846.4L290.11 842.32Z"/>
<path d="M293.97 864.73L287.03 864.73L284.89 871.32L290.5 875.4L296.11 871.32Z"/>
<path d="M299.97 872.73L293.03 872.73L290.89 879.32L296.5 883.4L302.11 879.32Z"/>
<path d="M306.97 881.73L300.03 881.73L297.89 888.32L303.5 892.4L309.11 888.32Z"/>
<path d="M312.97 885.73L306.03 885.73L303.89 892.32L309.5 896.4L315.11 892.32Z"/>
<path d="M318.97 886.73L312.03 886.73L309.89 893.32L315.5 897.4L321.11 893.32Z"/>
<path d="M324.97 886.73L318.03 886.73L315.89 893.32L321.5 897.4L327.11 893.32Z"/>
<path d="M330.97 886.73L324.03 886.73L321.89 893.32L327.5 897.4L333.11 893.32Z"/>
<path d="M336.97 884.73L330.03 884.73L327.89 891.32L333.5 895.4L339.11 891.32Z"/>
<path d="M343.97 879.73L337.03 879.73L334.89 886.32L340.5 890.4L346.11 886.32Z"/>
<path d="M349.97 866.73L343.03 866.73L340.89 873.32L346.5 877.4L352.11 873.32Z"/>
<path d="M355.97 860.73L349.03 860.73L346.89 867.32L352.5 871.4L358.11 867.32Z"/>
<path d="M361.97 843.73L355.03 843.73L352.89 850.32L358.5 854.4L364.11 850.32Z"/>
<path d="M367.97 839.73L361.03 839.73L358.89 846.32L364.5 850.4L370.11 846.32Z"/>
<path d="M374.97 847.73L368.03 847.73L365.89 854.32L371.5 858.4L377.11 854.32Z"/>
<path d="M380.97 853.73L374.03 853.73L371.89 860.32L377.5 864.4L383.11 860.32Z"/>
<path d="M386.97 882.73L380.03 882.73L377.89 889.32L383.5 893.4L389.11 889.32Z"/>
<path d="M392.97 876.73L386.03 876.73L383.89 883.32L389.5 887.4L395.11 883.32Z"/>
<path d="M398.97 878.73L392.03 878.73L389.89 885.32L395.5 889.4L401.11 885.32Z"/>
<path d="M404.97 872.73L398.03 872.73L395.89 879.32L401.5 883.4L407.11 879.32Z"/>
<path d="M411.97 866.73L405.03 866.73L402.89 873.32L408.5 877.4L414.11 873.32Z"/>
<path d="M417.97 859.73L411.03 859.73L408.89 866.32L414.5 870.4L420.11 866.32Z"/>
<path d="M423.97 865.73L417.03 865.73L414.89 872.32L420.5 876.4L426.11 872.32Z"/>
<path d="M429.97 870.73L423.03 870.73L420.89 877.32L426.5 881.4L432.11 877.32Z"/>
<path d="M435.97 867.73L429.03 867.73L426.89 874.32L432.5 878.4L438.11 874.32Z"/>
<path d="M441.97 866.73L435.03 866.73L432.89 873.32L438.5 877.4L444.11 873.32Z"/>
<path d="M448.97 874.73L442.03 874.73L439.89 881.32L445.5 885.4L451.11 881.32Z"/>
<path d="M454.97 876.73L448.03 876.73L445.89 883.32L451.5 887.4L457.11 883.32Z"/>
<path d="M460.97 876.73L454.03 876.73L451.89 883.32L457.5 887.4L463.11 883.32Z"/>
<path d="M466.97 868.73L460.03 868.73L457.89 875.32L463.5 879.4L469.11 875.32Z"/>
<path d="M472.97 860.73L466.03 860.73L463.89 867.32L469.5 871.4L475.11 867.32Z"/>
<path d="M478.97 845.73L472.03 845.73L469.89 852.32L475.5 856.4L481.11 852.32Z"/>
<path d="M485.97 833.73L479.03 833.73L476.89 840.32L482.5 844.4L488.11 840.32Z"/>
<path d="M491.97 831.73L485.03 831.73L482.89 838.32L488.5 842.4L494.11 838.32Z"/>
<path d="M497.97 827.73L491.03 827.73L488.89 834.32L494.5 838.4L500.11 834.32Z"/>
<path d="M503.97 825.73L497.03 825.73L494.89 832.32L500.5 836.4L506.11 832.32Z"/>
<path d="M509.97 826.73L503.03 826.73L500.89 833.32L506.5 837.4L512.11 833.32Z"/>
<path d="M515.97 830.73L509.03 830.73L506.89 837.32L512.5 841.4L518.11 837.32Z"/>
<path d="M522.97 833.73L516.03 833.73L513.89 840.32L519.5 844.4L525.11 840.32Z"/>
<path d="M528.97 838.73L522.03 838.73L519.89 845.32L525.5 849.4L531.11 845.32Z"/>
<path d="M534.97 849.73L528.03 849.73L525.89 856.32L531.5 860.4L537.11 856.32Z"/>
<path d="M540.97 868.73L534.03 868.73L531.89 875.32L537.5 879.4L543.11 875.32Z"/>
<path d="M546.97 882.73L540.03 882.73L537.89 889.32L543.5 893.4L549.11 889.32Z"/>
<path d="M552.97 882.73L546.03 882.73L543.89 889.32L549.5 893.4L555.11 889.32Z"/>
<path d="M559.97 882.73L553.03 882.73L550.89 889.32L556.5 893.4L562.11 889.32Z"/>
<path d="M565.97 882.73L559.03 882.73L556.89 889.32L562.5 893.4L568.11 889.32Z"/>
<path d="M571.97 882.73L565.03 882.73L562.89 889.32L568.5 893.4L574.11 889.32Z"/>
<path d="M577.97 882.73L571.03 882.73L568.89 889.32L574.5 893.4L580.11 889.32Z"/>
<path d="M583.97 879.73L577.03 879.73L574.89 886.32L580.5 890.4L586.11 886.32Z"/>
<path d="M589.97 879.73L583.03 879.73L580.89 886.32L586.5 890.4L592.11 886.32Z"/>
<path d="M596.97 881.73L590.03 881.73L587.89 888.32L593.5 892.4L599.11 888.32Z"/>
<path d="M602.97 882.73L596.03 882.73L593.89 889.32L599.5 893.4L605.11 889.32Z"/>
<path d="M608.97 882.73L602.03 882.73L599.89 889.32L605.5 893.4L611.11 889.32Z"/>
<path d="M614.97 878.73L608.03 878.73L605.89 885.32L611.5 889.4L617.11 885.32Z"/>
<path d="M620.97 878.73L614.03 878.73L611.89 885.32L617.5 889.4L623.11 885.32Z"/>
<path d="M627.97 870.73L621.03 870.73L618.89 877.32L624.5 881.4L630.11 877.32Z"/>
<path d="M633.97 862.73L627.03 862.73L624.89 869.32L630.5 873.4L636.11 869.32Z"/>
<path d="M639.97 856.73L633.03 856.73L630.89 863.32L636.5 867.4L642.11 863.32Z"/>
<path d="M645.97 843.73L639.03 843.73L636.89 850.32L642.5 854.4L648.11 850.32Z"/>
<path d="M651.97 832.73L645.03 832.73L642.89 839.32L648.5 843.4L654.11 839.32Z"/>
<path d="M657.97 826.73L651.03 826.73L648.89 833.32L654.5 837.4L660.11 833.32Z"/>
<path d="M664.97 829.73L658.03 829.73L655.89 836.32L661.5 840.4L667.11 836.32Z"/>
<path d="M670.97 833.73L664.03 833.73L661.89 840.32L667.5 844.4L673.11 840.32Z"/>
<path d="M676.97 839.73L670.03 839.73L667.89 846.32L673.5 850.4L679.11 846.32Z"/>
<path d="M682.97 851.73L676.03 851.73L673.89 858.32L679.5 862.4L685.11 858.32Z"/>
<path d="M688.97 872.73L682.03 872.73L679.89 879.32L685.5 883.4L691.11 879.32Z"/>
<path d="M694.97 882.73L688.03 882.73L685.89 889.32L691.5 893.4L697.11 889.32Z"/>
<path d="M701.97 882.73L695.03 882.73L692.89 889.32L698.5 893.4L704.11 889.32Z"/>
<path d="M707.97 882.73L701.03 882.73L698.89 889.32L704.5 893.4L710.11 889.32Z"/>
<path d="M713.97 882.73L707.03 882.73L704.89 889.32L710.5 893.4L716.11 889.32Z"/>
<path d="M719.97 882.73L713.03 882.73L710.89 889.32L716.5 893.4L722.11 889.32Z"/>
<path d="M725.97 882.73L719.03 882.73L716.89 889.32L722.5 893.4L728.11 889.32Z"/>
<path d="M731.97 882.73L725.03 882.73L722.89 889.32L728.5 893.4L734.11 889.32Z"/>
<path d="M738.97 882.73L732.03 882.73L729.89 889.32L735.5 893.4L741.11 889.32Z"/>
<path d="M744.97 882.73L738.03 882.73L735.89 889.32L741.5 893.4L747.11 889.32Z"/>
<path d="M750.97 882.73L744.03 882.73L741.89 889.32L747.5 893.4L753.11 889.32Z"/>
<path d="M756.97 882.73L750.03 882.73L747.89 889.32L753.5 893.4L759.11 889.32Z"/>
<path d="M762.97 882.73L756.03 882.73L753.89 889.32L759.5 893.4L765.11 889.32Z"/>
<path d="M768.97 876.73L762.03 876.73L759.89 883.32L765.5 887.4L771.11 883.32Z"/>
<path d="M775.97 866.73L769.03 866.73L766.89 873.32L772.5 877.4L778.11 873.32Z"/>
<path d="M781.97 860.73L775.03 860.73L772.89 867.32L778.5 871.4L784.11 867.32Z"/>
<path d="M787.97 858.73L781.03 858.73L778.89 865.32L784.5 869.4L790.11 865.32Z"/>
<path d="M793.97 840.73L787.03 840.73L784.89 847.32L790.5 851.4L796.11 847.32Z"/>
<path d="M799.97 819.73L793.03 819.73L790.89 826.32L796.5 830.4L802.11 826.32Z"/>
<path d="M805.97 796.73L799.03 796.73L796.89 803.32L802.5 807.4L808.11 803.32Z"/>
<path d="M812.97 789.73L806.03 789.73L803.89 796.32L809.5 800.4L815.11 796.32Z"/>
<path d="M818.97 795.73L812.03 795.73L809.89 802.32L815.5 806.4L821.11 802.32Z"/>
<path d="M824.97 812.73L818.03 812.73L815.89 819.32L821.5 823.4L827.11 819.32Z"/>
<path d="M830.97 831.73L824.03 831.73L821.89 838.32L827.5 842.4L833.11 838.32Z"/>
<path d="M836.97 862.73L830.03 862.73L827.89 869.32L833.5 873.4L839.11 869.32Z"/>
<path d="M843.97 878.73L837.03 878.73L834.89 885.32L840.5 889.4L846.11 885.32Z"/>
<path d="M849.97 880.73L843.03 880.73L840.89 887.32L846.5 891.4L852.11 887.32Z"/>
<path d="M855.97 881.73L849.03 881.73L846.89 888.32L852.5 892.4L858.11 888.32Z"/>
<path d="M861.97 880.73L855.03 880.73L852.89 887.32L858.5 891.4L864.11 887.32Z"/>
<path d="M867.97 880.73L861.03 880.73L858.89 887.32L864.5 891.4L870.11 887.32Z"/>
<path d="M873.97 876.73L867.03 876.73L864.89 883.32L870.5 887.4L876.11 883.32Z"/>
<path d="M880.97 876.73L874.03 876.73L871.89 883.32L877.5 887.4L883.11 883.32Z"/>
<path d="M886.97 871.73L880.03 871.73L877.89 878.32L883.5 882.4L889.11 878.32Z"/>
<path d="M892.97 874.73L886.03 874.73L883.89 881.32L889.5 885.4L895.11 881.32Z"/>
<path d="M898.97 878.73L892.03 878.73L889.89 885.32L895.5 889.4L901.11 885.32Z"/>
<path d="M904.97 880.73L898.03 880.73L895.89 887.32L901.5 891.4L907.11 887.32Z"/>
<path d="M910.97 876.73L904.03 876.73L901.89 883.32L907.5 887.4L913.11 883.32Z"/>
<path d="M917.97 863.73L911.03 863.73L908.89 870.32L914.5 874.4L920.11 870.32Z"/>
<path d="M923.97 845.73L917.03 845.73L914.89 852.32L920.5 856.4L926.11 852.32Z"/>
<path d="M929.97 836.73L923.03 836.73L920.89 843.32L926.5 847.4L932.11 843.32Z"/>
<path d="M935.97 827.73L929.03 827.73L926.89 834.32L932.5 838.4L938.11 834.32Z"/>
<path d="M941.97 821.73L935.03 821.73L932.89 828.32L938.5 832.4L944.11 828.32Z"/>
<path d="M947.97 819.73L941.03 819.73L938.89 826.32L944.5 830.4L950.11 826.32Z"/>
<path d="M954.97 820.73L948.03 820.73L945.89 827.32L951.5 831.4L957.11 827.32Z"/>
<path d="M960.97 819.73L954.03 819.73L951.89 826.32L957.5 830.4L963.11 826.32Z"/>
<path d="M966.97 831.73L960.03 831.73L957.89 838.32L963.5 842.4L969.11 838.32Z"/>
<path d="M972.97 849.73L966.03 849.73L963.89 856.32L969.5 860.4L975.11 856.32Z"/>
<path d="M991.97 867.73L985.03 867.73L982.89 874.32L988.5 878.4L994.11 874.32Z"/>
<path d="M1009.97 872.73L1003.03 872.73L1000.89 879.32L1006.5 883.4L1012.11 879.32Z"/>
<path d="M1028.97 880.73L1022.03 880.73L1019.89 887.32L1025.5 891.4L1031.11 887.32Z"/>
<path d="M1046.97 880.73L1040.03 880.73L1037.89 887.32L1043.5 891.4L1049.11 887.32Z"/>
<path d="M1065.97 874.73L1059.03 874.73L1056.89 881.32L1062.5 885.4L1068.11 881.32Z"/>
<path d="M1083.97 856.73L1077.03 856.73L1074.89 863.32L1080.5 867.4L1086.11 863.32Z"/>
<path d="M1102.97 814.73L1096.03 814.73L1093.89 821.32L1099.5 825.4L1105.11 821.32Z"/>
<path d="M1120.97 815.73L1114.03 815.73L1111.89 822.32L1117.5 826.4L1123.11 822.32Z"/>
<path d="M1139.97 879.73L1133.03 879.73L1130.89 886.32L1136.5 890.4L1142.11 886.32Z"/>
<path d="M1157.97 880.73L1151.03 880.73L1148.89 887.32L1154.5 891.4L1160.11 887.32Z"/>
<path d="M1176.97 862.73L1170.03 862.73L1167.89 869.32L1173.5 873.4L1179.11 869.32Z"/>
<path d="M1194.97 877.73L1188.03 877.73L1185.89 884.32L1191.5 888.4L1197.11 884.32Z"/>
<path d="M1213.97 866.73L1207.03 866.73L1204.89 873.32L1210.5 877.4L1216.11 873.32Z"/>
<path d="M1231.97 819.73L1225.03 819.73L1222.89 826.32L1228.5 830.4L1234.11 826.32Z"/>
<path d="M1250.97 759.73L1244.03 759.73L1241.89 766.32L1247.5 770.4L1253.11 766.32Z"/>
<path d="M1268.97 774.73L1262.03 774.73L1259.89 781.32L1265.5 785.4L1271.11 781.32Z"/>
<path d="M1287.97 860.73L1281.03 860.73L1278.89 867.32L1284.5 871.4L1290.11 867.32Z"/>
<path d="M1305.97 876.73L1299.03 876.73L1296.89 883.32L1302.5 887.4L1308.11 883.32Z"/>
<path d="M1324.97 858.73L1318.03 858.73L1315.89 865.32L1321.5 869.4L1327.11 865.32Z"/>
<path d="M1342.97 852.73L1336.03 852.73L1333.89 859.32L1339.5 863.4L1345.11 859.32Z"/>
<path d="M1361.97 852.73L1355.03 852.73L1352.89 859.32L1358.5 863.4L1364.11 859.32Z"/>
<path d="M1379.97 830.73L1373.03 830.73L1370.89 837.32L1376.5 841.4L1382.11 837.32Z"/>
<path d="M1398.97 843.73L1392.03 843.73L1389.89 850.32L1395.5 854.4L1401.11 850.32Z"/>
<path d="M1416.97 870.73L1410.03 870.73L1407.89 877.32L1413.5 881.4L1419.11 877.32Z"/>
<path d="M1435.97 882.73L1429.03 882.73L1426.89 889.32L1432.5 893.4L1438.11 889.32Z"/>
<path d="M1453.97 882.73L1447.03 882.73L1444.89 889.32L1450.5 893.4L1456.11 889.32Z"/>
</g>
<g fill="none" stroke="#FFA500" stroke-width="1">
<path d="M1389 324.5h11 M1394.5 319v11 M1389.2 319.2l10.6 10.6 M1389.2 329.8l10.6 -10.6"/>
<path d="M230 765.5h11 M235.5 760v11 M230.2 760.2l10.6 10.6 M230.2 770.8l10.6 -10.6"/>
<path d="M236 785.5h11 M241.5 780v11 M236.2 780.2l10.6 10.6 M236.2 790.8l10.6 -10.6"/>
<path d="M242 813.5h11 M247.5 808v11 M242.2 808.2l10.6 10.6 M242.2 818.8l10.6 -10.6"/>
<path d="M248 830.5h11 M253.5 825v11 M248.2 825.2l10.6 10.6 M248.2 835.8l10.6 -10.6"/>
<path d="M254 843.5h11 M259.5 838v11 M254.2 838.2l10.6 10.6 M254.2 848.8l10.6 -10.6"/>
<path d="M261 856.5h11 M266.5 851v11 M261.2 851.2l10.6 10.6 M261.2 861.8l10.6 -10.6"/>
<path d="M267 867.5h11 M272.5 862v11 M267.2 862.2l10.6 10.6 M267.2 872.8l10.6 -10.6"/>
<path d="M273 875.5h11 M278.5 870v11 M273.2 870.2l10.6 10.6 M273.2 880.8l10.6 -10.6"/>
<path d="M279 880.5h11 M284.5 875v11 M279.2 875.2l10.6 10.6 M279.2 885.8l10.6 -10.6"/>
<path d="M285 883.5h11 M290.5 878v11 M285.2 878.2l10.6 10.6 M285.2 888.8l10.6 -10.6"/>
<path d="M291 885.5h11 M296.5 880v11 M291.2 880.2l10.6 10.6 M291.2 890.8l10.6 -10.6"/>
<path d="M298 887.5h11 M303.5 882v11 M298.2 882.2l10.6 10.6 M298.2 892.8l10.6 -10.6"/>
<path d="M304 889.5h11 M309.5 884v11 M304.2 884.2l10.6 10.6 M304.2 894.8l10.6 -10.6"/>
<path d="M310 889.5h11 M315.5 884v11 M310.2 884.2l10.6 10.6 M310.2 894.8l10.6 -10.6"/>
<path d="M316 889.5h11 M321.5 884v11 M316.2 884.2l10.6 10.6 M316.2 894.8l10.6 -10.6"/>
<path d="M322 889.5h11 M327.5 884v11 M322.2 884.2l10.6 10.6 M322.2 894.8l10.6 -10.6"/>
<path d="M328 888.5h11 M333.5 883v11 M328.2 883.2l10.6 10.6 M328.2 893.8l10.6 -10.6"/>
<path d="M335 886.5h11 M340.5 881v11 M335.2 881.2l10.6 10.6 M335.2 891.8l10.6 -10.6"/>
<path d="M341 873.5h11 M346.5 868v11 M341.2 868.2l10.6 10.6 M341.2 878.8l10.6 -10.6"/>
<path d="M347 857.5h11 M352.5 852v11 M347.2 852.2l10.6 10.6 M347.2 862.8l10.6 -10.6"/>
<path d="M353 840.5h11 M358.5 835v11 M353.2 835.2l10.6 10.6 M353.2 845.8l10.6 -10.6"/>
<path d="M359 826.5h11 M364.5 821v11 M359.2 821.2l10.6 10.6 M359.2 831.8l10.6 -10.6"/>
<path d="M366 816.5h11 M371.5 811v11 M366.2 811.2l10.6 10.6 M366.2 821.8l10.6 -10.6"/>
<path d="M372 816.5h11 M377.5 811v11 M372.2 811.2l10.6 10.6 M372.2 821.8l10.6 -10.6"/>
<path d="M378 830.5h11 M383.5 825v11 M378.2 825.2l10.6 10.6 M378.2 835.8l10.6 -10.6"/>
<path d="M384 846.5h11 M389.5 841v11 M384.2 841.2l10.6 10.6 M384.2 851.8l10.6 -10.6"/>
<path d="M390 860.5h11 M395.5 855v11 M390.2 855.2l10.6 10.6 M390.2 865.8l10.6 -10.6"/>
<path d="M396 873.5h11 M401.5 868v11 M396.2 868.2l10.6 10.6 M396.2 878.8l10.6 -10.6"/>
<path d="M403 886.5h11 M408.5 881v11 M403.2 881.2l10.6 10.6 M403.2 891.8l10.6 -10.6"/>
<path d="M409 889.5h11 M414.5 884v11 M409.2 884.2l10.6 10.6 M409.2 894.8l10.6 -10.6"/>
<path d="M415 889.5h11 M420.5 884v11 M415.2 884.2l10.6 10.6 M415.2 894.8l10.6 -10.6"/>
<path d="M421 889.5h11 M426.5 884v11 M421.2 884.2l10.6 10.6 M421.2 894.8l10.6 -10.6"/>
<path d="M427 889.5h11 M432.5 884v11 M427.2 884.2l10.6 10.6 M427.2 894.8l10.6 -10.6"/>
<path d="M433 889.5h11 M438.5 884v11 M433.2 884.2l10.6 10.6 M433.2 894.8l10.6 -10.6"/>
<path d="M440 889.5h11 M445.5 884v11 M440.2 884.2l10.6 10.6 M440.2 894.8l10.6 -10.6"/>
<path d="M446 889.5h11 M451.5 884v11 M446.2 884.2l10.6 10.6 M446.2 894.8l10.6 -10.6"/>
<path d="M464 889.5h11 M469.5 884v11 M464.2 884.2l10.6 10.6 M464.2 894.8l10.6 -10.6"/>
<path d="M483 847.5h11 M488.5 842v11 M483.2 842.2l10.6 10.6 M483.2 852.8l10.6 -10.6"/>
<path d="M501 811.5h11 M506.5 806v11 M501.2 806.2l10.6 10.6 M501.2 816.8l10.6 -10.6"/>
<path d="M520 820.5h11 M525.5 815v11 M520.2 815.2l10.6 10.6 M520.2 825.8l10.6 -10.6"/>
<path d="M538 871.5h11 M543.5 866v11 M538.2 866.2l10.6 10.6 M538.2 876.8l10.6 -10.6"/>
<path d="M557 893.5h11 M562.5 888v11 M557.2 888.2l10.6 10.6 M557.2 898.8l10.6 -10.6"/>
<path d="M575 893.5h11 M580.5 888v11 M575.2 888.2l10.6 10.6 M575.2 898.8l10.6 -10.6"/>
<path d="M594 893.5h11 M599.5 888v11 M594.2 888.2l10.6 10.6 M594.2 898.8l10.6 -10.6"/>
<path d="M612 893.5h11 M617.5 888v11 M612.2 888.2l10.6 10.6 M612.2 898.8l10.6 -10.6"/>
<path d="M631 874.5h11 M636.5 869v11 M631.2 869.2l10.6 10.6 M631.2 879.8l10.6 -10.6"/>
<path d="M649 843.5h11 M654.5 838v11 M649.2 838.2l10.6 10.6 M649.2 848.8l10.6 -10.6"/>
<path d="M668 826.5h11 M673.5 821v11 M668.2 821.2l10.6 10.6 M668.2 831.8l10.6 -10.6"/>
<path d="M686 868.5h11 M691.5 863v11 M686.2 863.2l10.6 10.6 M686.2 873.8l10.6 -10.6"/>
<path d="M705 887.5h11 M710.5 882v11 M705.2 882.2l10.6 10.6 M705.2 892.8l10.6 -10.6"/>
<path d="M723 888.5h11 M728.5 883v11 M723.2 883.2l10.6 10.6 M723.2 893.8l10.6 -10.6"/>
<path d="M742 892.5h11 M747.5 887v11 M742.2 887.2l10.6 10.6 M742.2 897.8l10.6 -10.6"/>
<path d="M760 886.5h11 M765.5 881v11 M760.2 881.2l10.6 10.6 M760.2 891.8l10.6 -10.6"/>
<path d="M779 852.5h11 M784.5 847v11 M779.2 847.2l10.6 10.6 M779.2 857.8l10.6 -10.6"/>
<path d="M797 837.5h11 M802.5 832v11 M797.2 832.2l10.6 10.6 M797.2 842.8l10.6 -10.6"/>
<path d="M816 827.5h11 M821.5 822v11 M816.2 822.2l10.6 10.6 M816.2 832.8l10.6 -10.6"/>
<path d="M835 869.5h11 M840.5 864v11 M835.2 864.2l10.6 10.6 M835.2 874.8l10.6 -10.6"/>
<path d="M853 885.5h11 M858.5 880v11 M853.2 880.2l10.6 10.6 M853.2 890.8l10.6 -10.6"/>
<path d="M872 891.5h11 M877.5 886v11 M872.2 886.2l10.6 10.6 M872.2 896.8l10.6 -10.6"/>
<path d="M890 891.5h11 M895.5 886v11 M890.2 886.2l10.6 10.6 M890.2 896.8l10.6 -10.6"/>
<path d="M909 889.5h11 M914.5 884v11 M909.2 884.2l10.6 10.6 M909.2 894.8l10.6 -10.6"/>
<path d="M927 857.5h11 M932.5 852v11 M927.2 852.2l10.6 10.6 M927.2 862.8l10.6 -10.6"/>
<path d="M946 828.5h11 M951.5 823v11 M946.2 823.2l10.6 10.6 M946.2 833.8l10.6 -10.6"/>
<path d="M964 823.5h11 M969.5 818v11 M964.2 818.2l10.6 10.6 M964.2 828.8l10.6 -10.6"/>
<path d="M983 867.5h11 M988.5 862v11 M983.2 862.2l10.6 10.6 M983.2 872.8l10.6 -10.6"/>
<path d="M1001 889.5h11 M1006.5 884v11 M1001.2 884.2l10.6 10.6 M1001.2 894.8l10.6 -10.6"/>
<path d="M1020 892.5h11 M1025.5 887v11 M1020.2 887.2l10.6 10.6 M1020.2 897.8l10.6 -10.6"/>
<path d="M1038 893.5h11 M1043.5 888v11 M1038.2 888.2l10.6 10.6 M1038.2 898.8l10.6 -10.6"/>
<path d="M1057 893.5h11 M1062.5 888v11 M1057.2 888.2l10.6 10.6 M1057.2 898.8l10.6 -10.6"/>
<path d="M1075 864.5h11 M1080.5 859v11 M1075.2 859.2l10.6 10.6 M1075.2 869.8l10.6 -10.6"/>
<path d="M1094 828.5h11 M1099.5 823v11 M1094.2 823.2l10.6 10.6 M1094.2 833.8l10.6 -10.6"/>
<path d="M1112 827.5h11 M1117.5 822v11 M1112.2 822.2l10.6 10.6 M1112.2 832.8l10.6 -10.6"/>
<path d="M1131 871.5h11 M1136.5 866v11 M1131.2 866.2l10.6 10.6 M1131.2 876.8l10.6 -10.6"/>
<path d="M1149 890.5h11 M1154.5 885v11 M1149.2 885.2l10.6 10.6 M1149.2 895.8l10.6 -10.6"/>
<path d="M1168 893.5h11 M1173.5 888v11 M1168.2 888.2l10.6 10.6 M1168.2 898.8l10.6 -10.6"/>
<path d="M1186 893.5h11 M1191.5 888v11 M1186.2 888.2l10.6 10.6 M1186.2 898.8l10.6 -10.6"/>
<path d="M1205 893.5h11 M1210.5 888v11 M1205.2 888.2l10.6 10.6 M1205.2 898.8l10.6 -10.6"/>
<path d="M1223 864.5h11 M1228.5 859v11 M1223.2 859.2l10.6 10.6 M1223.2 869.8l10.6 -10.6"/>
<path d="M1242 832.5h11 M1247.5 827v11 M1242.2 827.2l10.6 10.6 M1242.2 837.8l10.6 -10.6"/>
<path d="M1260 815.5h11 M1265.5 810v11 M1260.2 810.2l10.6 10.6 M1260.2 820.8l10.6 -10.6"/>
<path d="M1279 867.5h11 M1284.5 862v11 M1279.2 862.2l10.6 10.6 M1279.2 872.8l10.6 -10.6"/>
<path d="M1297 889.5h11 M1302.5 884v11 M1297.2 884.2l10.6 10.6 M1297.2 894.8l10.6 -10.6"/>
<path d="M1316 893.5h11 M1321.5 888v11 M1316.2 888.2l10.6 10.6 M1316.2 898.8l10.6 -10.6"/>
<path d="M1334 893.5h11 M1339.5 888v11 M1334.2 888.2l10.6 10.6 M1334.2 898.8l10.6 -10.6"/>
<path d="M1353 890.5h11 M1358.5 885v11 M1353.2 885.2l10.6 10.6 M1353.2 895.8l10.6 -10.6"/>
<path d="M1371 863.5h11 M1376.5 858v11 M1371.2 858.2l10.6 10.6 M1371.2 868.8l10.6 -10.6"/>
<path d="M1390 830.5h11 M1395.5 825v11 M1390.2 825.2l10.6 10.6 M1390.2 835.8l10.6 -10.6"/>
<path d="M1408 828.5h11 M1413.5 823v11 M1408.2 823.2l10.6 10.6 M1408.2 833.8l10.6 -10.6"/>
<path d="M1445 889.5h11 M1450.5 884v11 M1445.2 884.2l10.6 10.6 M1445.2 894.8l10.6 -10.6"/>
</g>
<rect x="124.5" y="98.5" width="1333" height="796" stroke="#000" stroke-width="1" fill="none"/>
</svg>
</body></html>
